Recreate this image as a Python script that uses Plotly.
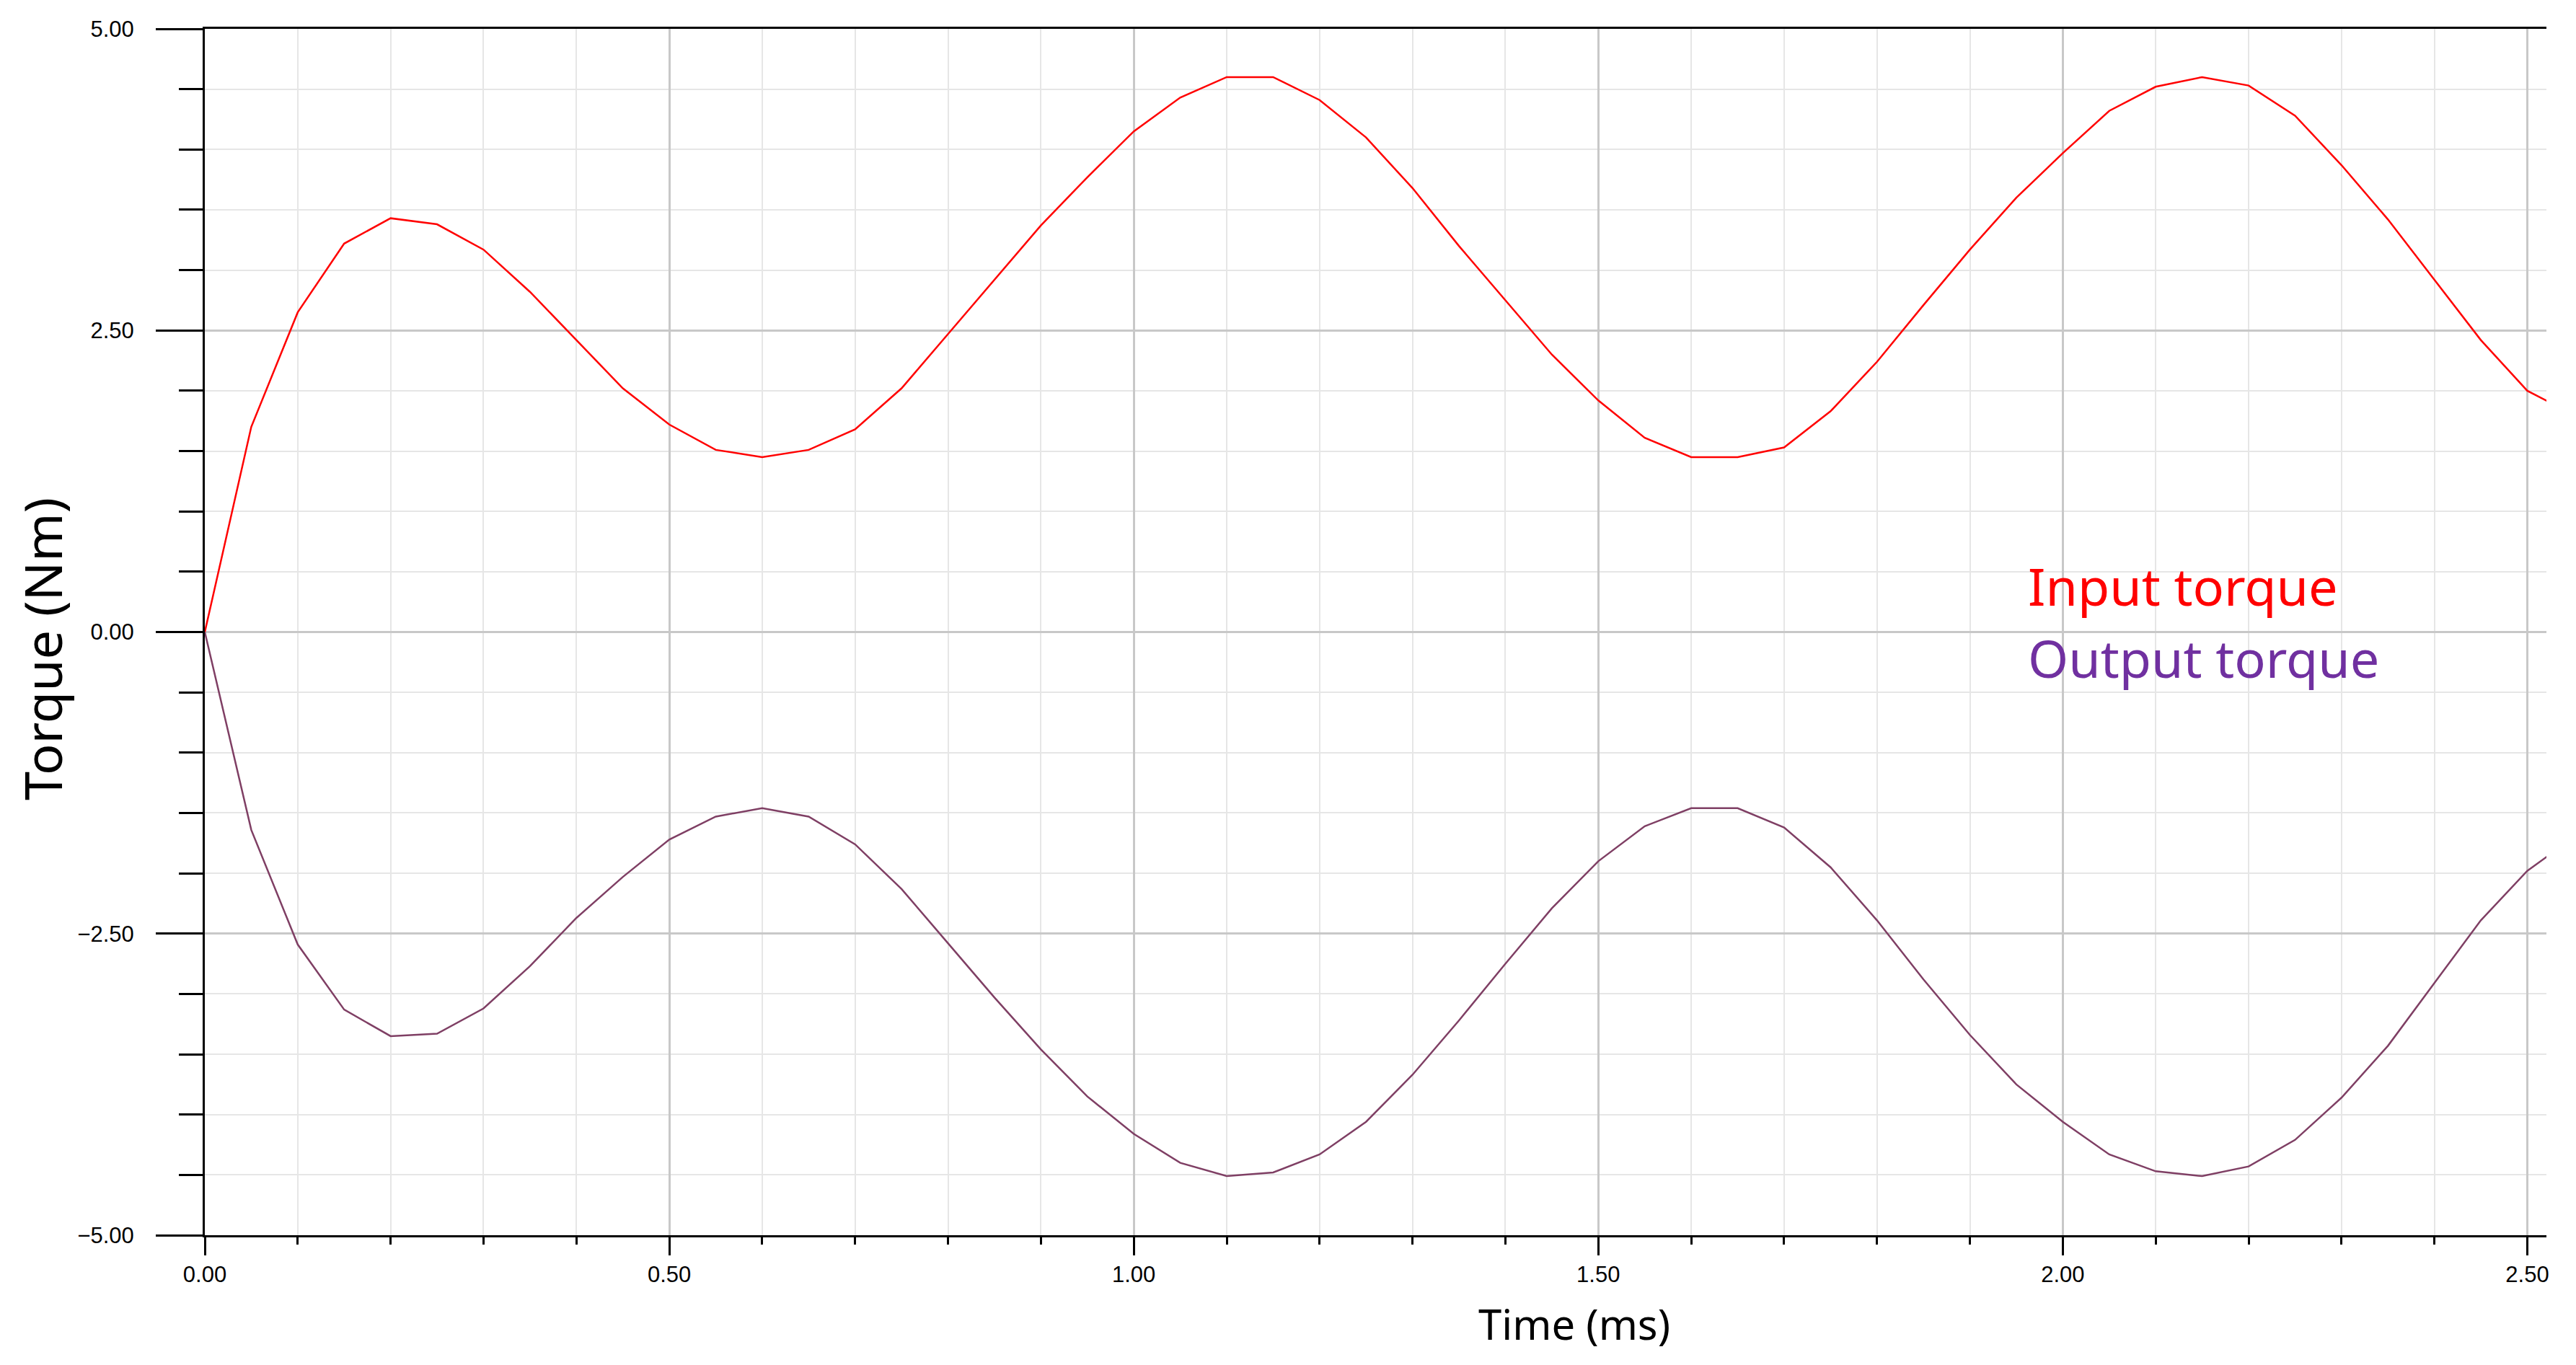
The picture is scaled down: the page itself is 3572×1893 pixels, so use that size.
import plotly.graph_objects as go

# ---------------- data ----------------
time_ms = [0.00, 0.05, 0.10, 0.15, 0.20, 0.25, 0.30, 0.35, 0.40, 0.45,
           0.50, 0.55, 0.60, 0.65, 0.70, 0.75, 0.80, 0.85, 0.90, 0.95,
           1.00, 1.05, 1.10, 1.15, 1.20, 1.25, 1.30, 1.35, 1.40, 1.45,
           1.50, 1.55, 1.60, 1.65, 1.70, 1.75, 1.80, 1.85, 1.90, 1.95,
           2.00, 2.05, 2.10, 2.15, 2.20, 2.25, 2.30, 2.35, 2.40, 2.45,
           2.50, 2.55]

input_torque = [0.00, 1.70, 2.65, 3.22, 3.43, 3.38, 3.17, 2.82, 2.42, 2.02,
                1.72, 1.51, 1.45, 1.51, 1.68, 2.02, 2.47, 2.92, 3.37, 3.77,
                4.15, 4.43, 4.60, 4.60, 4.41, 4.10, 3.68, 3.20, 2.75, 2.30,
                1.92, 1.61, 1.45, 1.45, 1.53, 1.83, 2.24, 2.71, 3.17, 3.60,
                3.97, 4.32, 4.52, 4.60, 4.53, 4.28, 3.87, 3.42, 2.92, 2.42,
                2.00, 1.80]

output_torque = [0.00, -1.64, -2.59, -3.13, -3.35, -3.33, -3.12, -2.77, -2.37, -2.03,
                 -1.72, -1.53, -1.46, -1.53, -1.76, -2.13, -2.58, -3.03, -3.46, -3.85,
                 -4.16, -4.40, -4.51, -4.48, -4.33, -4.06, -3.67, -3.22, -2.75, -2.29,
                 -1.90, -1.61, -1.46, -1.46, -1.62, -1.95, -2.39, -2.88, -3.34, -3.75,
                 -4.06, -4.33, -4.47, -4.51, -4.43, -4.21, -3.86, -3.43, -2.91, -2.39,
                 -1.98, -1.70]

series_names = ["Input torque", "Output torque"]
x_title = "Time (ms)"
y_title = "Torque (Nm)"

# ---------------- style / layout ----------------
WIN_W, WIN_H = 3572, 1893
BODY = 8                      # default page body margin
W, H = WIN_W - 2 * BODY, WIN_H - 2 * BODY
# plot area in window pixels
PL, PR, PT, PB = 284, 3531, 40, 1713
X_MAX = 2.5206

RED = "#FF0000"
PURPLE_LINE = "#7F3F64"
PURPLE_TEXT = "#7030A0"
MAJOR_GRID = "#C8C8C8"
MINOR_GRID = "#E6E6E6"


def px(xp):
    return (xp - PL) / (PR - PL)


def py(yp):
    return (PB - yp) / (PB - PT)


fig = go.Figure()
fig.add_trace(go.Scatter(x=time_ms, y=input_torque, mode="lines", name=series_names[0],
                         line=dict(color=RED, width=2.5), showlegend=False))
fig.add_trace(go.Scatter(x=time_ms, y=output_torque, mode="lines", name=series_names[1],
                         line=dict(color=PURPLE_LINE, width=2.5), showlegend=False))

tickfont = dict(family="Liberation Sans, Arial, sans-serif", size=31, color="black")

fig.update_xaxes(
    range=[0, X_MAX], tick0=0, dtick=0.5, tickformat=".2f",
    ticks="outside", ticklen=25, tickwidth=3, tickcolor="black",
    showline=True, linecolor="black", linewidth=3, mirror=True,
    showgrid=True, gridcolor=MAJOR_GRID, gridwidth=2.5, zeroline=False,
    tickfont=tickfont,
    minor=dict(dtick=0.1, tick0=0, ticks="outside", ticklen=10, tickwidth=3, tickcolor="black",
               showgrid=True, gridcolor=MINOR_GRID, gridwidth=2),
)
fig.update_yaxes(
    range=[-5, 5], tick0=0, dtick=2.5, tickformat=".2f",
    ticks="outside", ticklen=65, tickwidth=3, tickcolor="black",
    showline=True, linecolor="black", linewidth=3, mirror=False,
    showgrid=True, gridcolor=MAJOR_GRID, gridwidth=2.5, zeroline=False,
    tickfont=tickfont, ticklabelstandoff=24,
    minor=dict(dtick=0.5, tick0=0, ticks="outside", ticklen=33, tickwidth=3, tickcolor="black",
               showgrid=True, gridcolor=MINOR_GRID, gridwidth=2),
)

# white box behind the legend text
fig.add_shape(type="rect", xref="paper", yref="paper",
              x0=px(2767), x1=px(3491), y0=py(987), y1=py(737),
              fillcolor="white", line=dict(width=0), layer="between")

title_font = "Noto Sans, Open Sans, sans-serif"
fig.add_annotation(text=series_names[0], xref="paper", yref="paper",
                   x=px(2810), y=py(812), xanchor="left", yanchor="middle", showarrow=False,
                   font=dict(family=title_font, size=72, color=RED))
fig.add_annotation(text=series_names[1], xref="paper", yref="paper",
                   x=px(2810), y=py(912), xanchor="left", yanchor="middle", showarrow=False,
                   font=dict(family=title_font, size=72, color=PURPLE_TEXT))
fig.add_annotation(text=x_title, xref="paper", yref="paper",
                   x=px(2183), y=py(1835), xanchor="center", yanchor="middle", showarrow=False,
                   font=dict(family=title_font, size=58, color="black"))
fig.add_annotation(text=y_title, xref="paper", yref="paper", textangle=-90,
                   x=px(58), y=py(900), xanchor="center", yanchor="middle", showarrow=False,
                   font=dict(family=title_font, size=72, color="black"))

fig.update_layout(
    width=W, height=H, autosize=False,
    margin=dict(l=PL - BODY, r=WIN_W - BODY - PR, t=PT - BODY, b=WIN_H - BODY - PB, pad=0),
    plot_bgcolor="white", paper_bgcolor="white",
    showlegend=False,
)

fig.write_html("out.html")
